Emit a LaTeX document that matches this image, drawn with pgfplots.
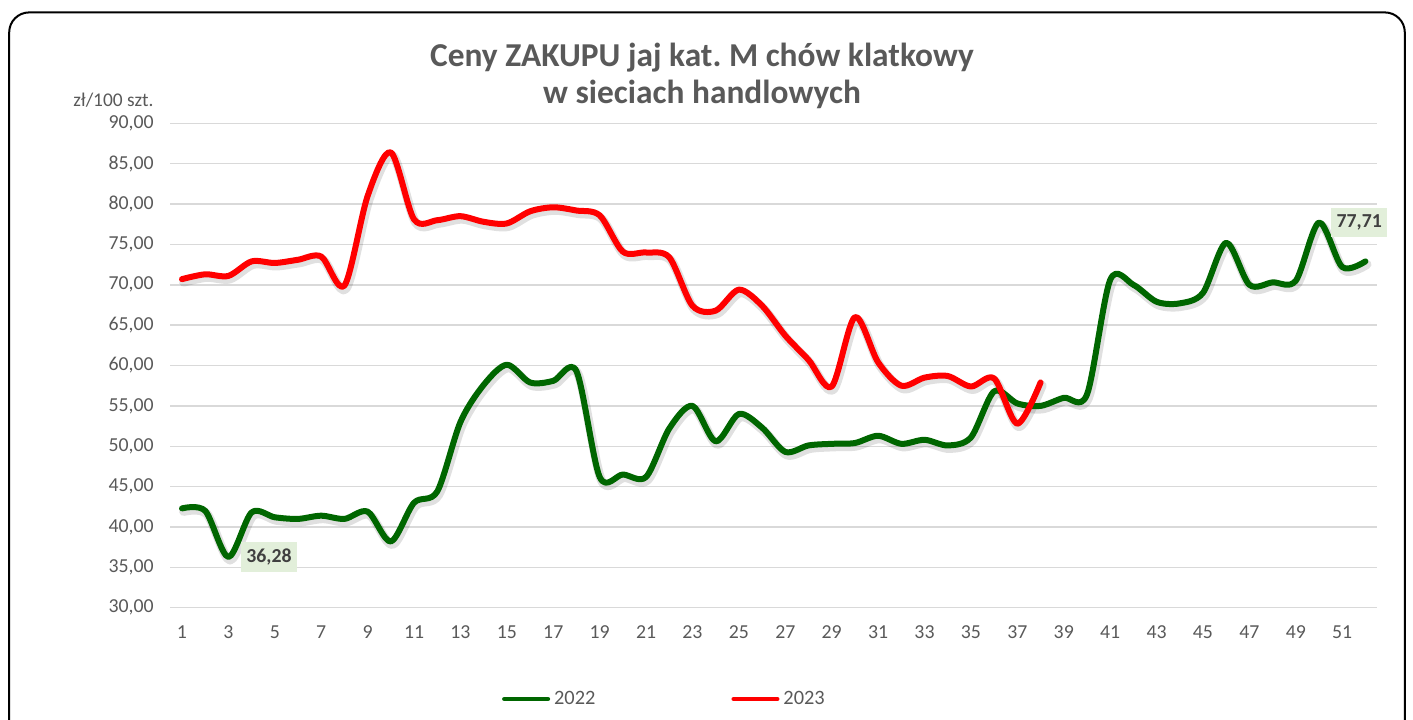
\documentclass[border=0pt]{standalone}
\usepackage{pgfplots}
\pgfplotsset{compat=1.18}
\usepackage{fontspec}
\setmainfont{Carlito}
\frenchspacing
\definecolor{g22}{RGB}{0,102,0}
\definecolor{r23}{RGB}{255,0,0}
\definecolor{gridgray}{RGB}{217,217,217}
\definecolor{tickgray}{RGB}{89,89,89}
\definecolor{lblgray}{RGB}{64,64,64}
\definecolor{lblfill}{RGB}{226,239,218}
\pgfplotstableread{
w v
1 42.3
2 42.0
3 36.28
4 41.8
5 41.2
6 41.0
7 41.4
8 41.0
9 41.9
10 38.2
11 43.0
12 44.4
13 53.0
14 57.6
15 60.1
16 57.9
17 58.1
18 59.3
19 46.2
20 46.5
21 46.2
22 52.2
23 55.0
24 50.6
25 54.0
26 52.3
27 49.3
28 50.1
29 50.3
30 50.4
31 51.3
32 50.3
33 50.8
34 50.1
35 51.1
36 56.8
37 55.3
38 55.0
39 56.0
40 56.4
41 70.6
42 70.0
43 67.9
44 67.7
45 69.0
46 75.2
47 70.0
48 70.3
49 70.5
50 77.71
51 72.2
52 72.9
}\dataA
\pgfplotstableread{
w v
1 70.7
2 71.3
3 71.1
4 72.9
5 72.7
6 73.1
7 73.5
8 69.9
9 81.0
10 86.4
11 78.1
12 78.0
13 78.5
14 77.8
15 77.6
16 79.1
17 79.6
18 79.2
19 78.6
20 74.1
21 74.0
22 73.4
23 67.4
24 66.8
25 69.4
26 67.4
27 63.7
28 60.7
29 57.4
30 66.0
31 60.4
32 57.5
33 58.5
34 58.7
35 57.4
36 58.4
37 52.8
38 57.9
}\dataB
\begin{document}
\begin{tikzpicture}
\useasboundingbox (0pt,0pt) rectangle (706.5pt,-359.5pt);
\draw[black, line width=1pt, rounded corners=10pt] (4.6pt,-6.2pt) rectangle (702.4pt,-375pt);
\node[anchor=base, font=\fontsize{16.7}{20}\bfseries, text=tickgray] at (351pt,-33pt) {Ceny ZAKUPU jaj kat.\ M chów klatkowy};
\node[anchor=base, font=\fontsize{16.7}{20}\bfseries, text=tickgray] at (351pt,-51.5pt) {w sieciach handlowych};
\node[anchor=base east, inner sep=0pt, font=\fontsize{9.7}{11}\selectfont, text=tickgray] at (77pt,-53pt) {zł/100 szt.};
\begin{axis}[
  at={(85.2pt,-303.85pt)}, anchor=south west,
  scale only axis, width=603.3pt, height=242.2pt,
  xmin=0.5, xmax=52.5, ymin=30, ymax=90,
  xtick={1,3,...,51}, ytick={30,35,...,90},
  ymajorgrids, grid style={draw=gridgray, line width=0.75pt},
  axis line style={draw=none}, major tick length=0pt,
  clip=false,
  /pgf/number format/assume math mode=true,
  tick label style={font=\fontsize{9.9}{11}\selectfont, text=tickgray, inner sep=0pt},
  yticklabel style={anchor=east, xshift=-8.2pt, /pgf/number format/.cd, fixed, fixed zerofill, precision=2, use comma, /tikz/.cd},
  xticklabel style={anchor=north, yshift=-8.9pt},
  legend columns=2,
  legend style={at={(0.4103,-0.1885)}, anchor=center, draw=none, fill=none,
    font=\fontsize{10.2}{12}\selectfont, text=tickgray, inner sep=0pt,
    /tikz/every even column/.append style={column sep=66pt}},
  legend image code/.code={\draw[#1, line width=2pt, line cap=round] (0pt,0pt) -- (22pt,0pt);},
]
\addplot[black, opacity=0.12, line width=4.5pt, smooth, tension=0.5, line join=round, line cap=round, xshift=0.8pt, yshift=-1.5pt, forget plot] table[x=w,y=v] {\dataA};
\addplot[black, opacity=0.12, line width=4.5pt, smooth, tension=0.5, line join=round, line cap=round, xshift=0.8pt, yshift=-1.5pt, forget plot] table[x=w,y=v] {\dataB};
\addplot[g22, line width=3pt, smooth, tension=0.5, line join=round, line cap=round] table[x=w,y=v] {\dataA};
\addlegendentry{2022}
\addplot[r23, line width=3pt, smooth, tension=0.5, line join=round, line cap=round] table[x=w,y=v] {\dataB};
\addlegendentry{2023}
\node[anchor=west, xshift=6.2pt, fill=lblfill, text=lblgray, font=\fontsize{9.9}{11}\bfseries, inner xsep=2.6pt, minimum height=14pt] at (axis cs:3,36.28) {36,28};
\node[anchor=west, xshift=6pt, fill=lblfill, text=lblgray, font=\fontsize{9.9}{11}\bfseries, inner xsep=2.6pt, minimum height=14pt] at (axis cs:50,77.71) {77,71};
\end{axis}
\end{tikzpicture}
\end{document}
